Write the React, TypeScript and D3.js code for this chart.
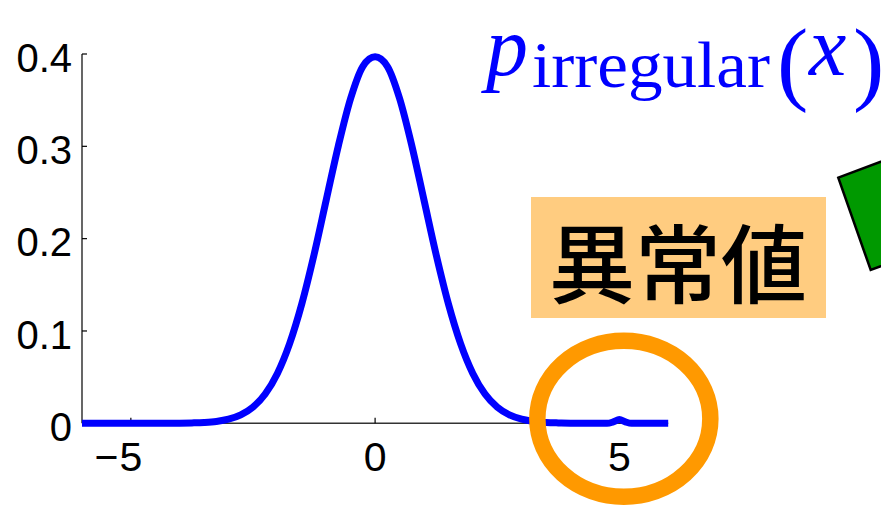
import React from "react";
import * as d3 from "d3";

// Sampled density p_irregular(x): a standard-normal bulk plus a tiny outlier bump near x = 5
const densityX = [
  -6, -5.75, -5.5, -5.25, -5, -4.75, -4.5, -4.25, -4, -3.75, -3.5, -3.25, -3,
  -2.75, -2.5, -2.25, -2, -1.75, -1.5, -1.25, -1, -0.75, -0.5, -0.25, 0,
  0.25, 0.5, 0.75, 1, 1.25, 1.5, 1.75, 2, 2.25, 2.5, 2.75, 3, 3.25, 3.5,
  3.75, 4, 4.25, 4.5, 4.75, 4.875, 5, 5.125, 5.25, 5.5, 5.75, 6,
];
const densityY = [
  0, 0, 0, 0, 0, 0, 0, 0, 0.0001, 0.0004, 0.0009, 0.002, 0.0044,
  0.0091, 0.0175, 0.0317, 0.054, 0.0863, 0.1295, 0.1826, 0.242, 0.3011, 0.3521, 0.3867, 0.397,
  0.3867, 0.3521, 0.3011, 0.242, 0.1826, 0.1295, 0.0863, 0.054, 0.0317, 0.0175, 0.0091, 0.0044, 0.002, 0.0009,
  0.0004, 0.0001, 0, 0, 0, 0.0015, 0.004, 0.0015, 0, 0, 0, 0,
];

const xTickValues = [-5, 0, 5];
const yTickValues = [0, 0.1, 0.2, 0.3, 0.4];
const yTickLabels = ["0", "0.1", "0.2", "0.3", "0.4"];
const outlierX = 5;
const calloutText = "異常値";

const BLUE = "#0000ff";
const ORANGE = "#ff9900";
const SANS = "'Liberation Sans', Arial, sans-serif";
const SERIF = "'Liberation Serif', 'DejaVu Serif', serif";

export default function App() {
  const x = d3.scaleLinear().domain([-6, 6]).range([82, 668.2]);
  const y = d3.scaleLinear().domain([0, 0.4]).range([423.3, 54]);

  const line = d3
    .line<number>()
    .x((_, i) => x(densityX[i]))
    .y((d) => y(d))
    .curve(d3.curveMonotoneX);

  const path = line(densityY) ?? "";
  const x0 = x.range()[0];
  const x1 = x.range()[1];
  const yBase = y(0);

  // green wedge shape sticking in from the right edge
  const tl: [number, number] = [838.3, 177.7];
  const bl: [number, number] = [870.7, 270];
  const dir: [number, number] = [0.936, -0.351];
  const far = 120;
  const wedge = [
    tl,
    [tl[0] + far * dir[0], tl[1] + far * dir[1]],
    [bl[0] + far * dir[0], bl[1] + far * dir[1]],
    bl,
  ]
    .map((p) => p.join(","))
    .join(" ");

  return (
    <svg
      width={881}
      height={516}
      viewBox="0 0 881 516"
      style={{ position: "absolute", left: 0, top: 0, display: "block", background: "#fff" }}
    >
      <rect x={0} y={0} width={881} height={516} fill="#fff" />

      {/* axes */}
      <line x1={x0} x2={x0} y1={y(0.4)} y2={yBase} stroke="#000" strokeWidth={1.2} />
      <line x1={x0} x2={x1} y1={yBase} y2={yBase} stroke="#333" strokeWidth={1.4} />
      {yTickValues.map((v, i) => (
        <g key={`y${i}`}>
          <line x1={x0} x2={x0 + 5} y1={y(v)} y2={y(v)} stroke="#000" strokeWidth={1.2} />
          <text
            x={72}
            y={y(v) + 17.7}
            textAnchor="end"
            fontFamily={SANS}
            fontSize={40}
            fill="#000"
          >
            {yTickLabels[i]}
          </text>
        </g>
      ))}
      {xTickValues.map((v) => (
        <g key={`x${v}`}>
          <line x1={x(v)} x2={x(v)} y1={yBase} y2={yBase - 5.5} stroke="#000" strokeWidth={1.2} />
          <text
            x={x(v)}
            y={471}
            textAnchor="middle"
            fontFamily={SANS}
            fontSize={41}
            fill="#000"
          >
            {Math.abs(v)}
          </text>
          {v < 0 && (
            <text
              x={x(v) - 12.5}
              y={471}
              textAnchor="end"
              fontFamily={SANS}
              fontSize={41}
              fill="#000"
            >
              {"\u2212"}
            </text>
          )}
        </g>
      ))}

      {/* density curve */}
      <path d={path} fill="none" stroke={BLUE} strokeWidth={7} strokeLinejoin="round" />

      {/* ring around the outlier */}
      <ellipse
        cx={x(outlierX) + 4.5}
        cy={yBase - 4.5}
        rx={86.5}
        ry={78}
        fill="none"
        stroke={ORANGE}
        strokeWidth={16.5}
      />

      {/* callout box */}
      <rect x={531} y={197} width={295} height={121} fill="#ffcc80" />
      <text
        x={678}
        y={297}
        textAnchor="middle"
        fontFamily="'Noto Sans CJK JP', 'Noto Sans CJK SC', sans-serif"
        fontSize={86}
        fontWeight={500}
        fill="#000"
      >
        {calloutText}
      </text>

      {/* green shape at the right edge */}
      <polygon points={wedge} fill="#009900" stroke="#000" strokeWidth={2.5} strokeLinejoin="miter" />

      {/* formula label */}
      <g fill={BLUE} fontFamily={SERIF}>
        <text x={486} y={75} fontSize={84} fontStyle="italic">
          p
        </text>
        <text x={532} y={87} fontSize={66} textLength={238} lengthAdjust="spacingAndGlyphs">
          irregular
        </text>
        <text x={777} y={93} fontSize={94}>
          (
        </text>
        <text x={809} y={75} fontSize={84} fontStyle="italic">
          x
        </text>
        <text x={853} y={93} fontSize={94}>
          )
        </text>
      </g>
    </svg>
  );
}
